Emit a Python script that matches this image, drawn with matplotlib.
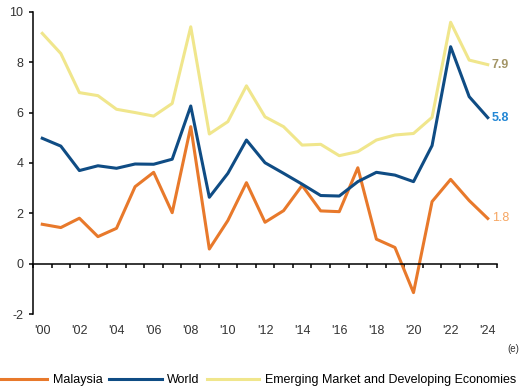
import matplotlib
matplotlib.use('Agg')
import matplotlib.pyplot as plt
import numpy as np

plt.rcParams['font.family'] = ['Liberation Sans', 'DejaVu Sans']
plt.rcParams['axes.unicode_minus'] = False

# real GDP growth, % (2024 is an estimate)
years = list(range(2000, 2025))
malaysia = [1.57, 1.44, 1.81, 1.08, 1.41, 3.06, 3.63, 2.03, 5.44, 0.59,
            1.72, 3.22, 1.65, 2.11, 3.11, 2.10, 2.07, 3.81, 0.98, 0.65,
            -1.14, 2.47, 3.35, 2.51, 1.8]
world = [4.98, 4.67, 3.70, 3.89, 3.79, 3.96, 3.95, 4.15, 6.26, 2.64,
         3.59, 4.91, 4.01, 3.59, 3.16, 2.71, 2.69, 3.26, 3.63, 3.52,
         3.26, 4.69, 8.61, 6.63, 5.8]
emde = [9.14, 8.34, 6.79, 6.67, 6.13, 6.00, 5.86, 6.36, 9.40, 5.15,
        5.64, 7.06, 5.83, 5.44, 4.71, 4.74, 4.29, 4.45, 4.91, 5.11,
        5.17, 5.81, 9.58, 8.08, 7.9]
tick_years = years[::2]
tick_labels = ["'%02d" % (y % 100) for y in tick_years]

c_mys = '#E8792B'
c_world = '#0F4C84'
c_emde = '#F0E68C'

fig = plt.figure(figsize=(5.21, 3.89), dpi=100)
ax = fig.add_axes([0.0633, 0.192, 0.8907, 0.778])

ax.plot(years, malaysia, color=c_mys, lw=2.2, label='Malaysia')
ax.plot(years, world, color=c_world, lw=2.2, label='World')
ax.plot(years, emde, color=c_emde, lw=2.2,
        label='Emerging Market and Developing Economies')

ax.set_xlim(1999.5, 2024.5)
ax.set_ylim(-2, 10)
ax.set_yticks(np.arange(-2, 11, 2))
ax.tick_params(axis='y', direction='out', length=3, width=1.1,
               labelsize=9, labelcolor='#333333', pad=4)

# category axis sits on zero, ticks between years
ax.spines['bottom'].set_position(('data', 0))
ax.spines['bottom'].set_linewidth(1.1)
ax.spines['left'].set_linewidth(1.1)
ax.spines['top'].set_visible(False)
ax.spines['right'].set_visible(False)
ax.set_xticks(np.arange(1999.5, 2025, 1))
ax.tick_params(axis='x', direction='out', length=3, width=1.1,
               labelbottom=False)

for y, lab in zip(tick_years, tick_labels):
    ax.text(y, -2.66, lab, ha='center', va='center', fontsize=9,
            color='#333333', clip_on=False)

fig.text(0.996, 0.104, '(e)', fontsize=7, color='#333333',
         ha='right', va='center')

# end-of-series labels
ax.annotate('%.1f' % emde[-1], (years[-1], emde[-1]), xytext=(3, 0),
            textcoords='offset points', va='center', fontsize=9,
            fontweight='bold', color='#A39566', annotation_clip=False)
ax.annotate('%.1f' % world[-1], (years[-1], world[-1]), xytext=(3, 0),
            textcoords='offset points', va='center', fontsize=9,
            fontweight='bold', color='#2387D5', annotation_clip=False)
ax.annotate('%.1f' % malaysia[-1], (years[-1], malaysia[-1]), xytext=(3, 0),
            textcoords='offset points', va='center', fontsize=9,
            color='#F6A561', annotation_clip=False)

fig.legend(loc='center', bbox_to_anchor=(0.49, 0.022), ncol=3,
           frameon=False, fontsize=9, handlelength=4.2,
           handletextpad=0.45, columnspacing=0.55, borderaxespad=0)

fig.savefig('out.png', dpi=100)
